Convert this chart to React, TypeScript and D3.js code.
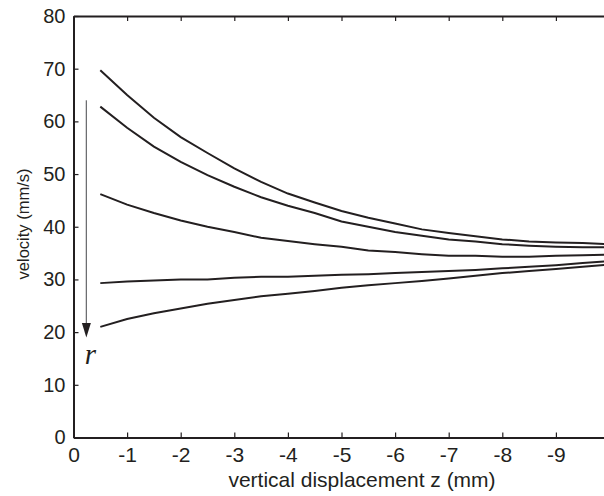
import React, { useRef, useEffect } from 'react';
import * as d3 from 'd3';

// vertical displacement z (mm), sampled every 0.5 mm
const zValues = [-0.5, -1, -1.5, -2, -2.5, -3, -3.5, -4, -4.5, -5, -5.5, -6, -6.5, -7, -7.5, -8, -8.5, -9, -9.5, -10];

// velocity (mm/s) for each radial position, outermost first
const curve1 = [69.7, 65.0, 60.7, 57.0, 54.0, 51.1, 48.5, 46.3, 44.6, 43.0, 41.7, 40.6, 39.5, 38.8, 38.2, 37.6, 37.2, 37.0, 36.9, 36.7];
const curve2 = [62.8, 58.8, 55.2, 52.3, 49.8, 47.6, 45.6, 44.0, 42.6, 41.0, 40.0, 39.0, 38.3, 37.6, 37.2, 36.7, 36.4, 36.2, 36.1, 36.1];
const curve3 = [46.2, 44.2, 42.6, 41.2, 40.0, 39.0, 37.9, 37.3, 36.7, 36.2, 35.5, 35.2, 34.8, 34.5, 34.5, 34.3, 34.3, 34.5, 34.6, 34.7];
const curve4 = [29.3, 29.6, 29.8, 30.0, 30.0, 30.3, 30.5, 30.5, 30.7, 30.9, 31.0, 31.2, 31.4, 31.6, 31.8, 32.1, 32.4, 32.7, 33.1, 33.5];
const curve5 = [21.0, 22.5, 23.6, 24.5, 25.4, 26.1, 26.8, 27.3, 27.8, 28.4, 28.9, 29.3, 29.7, 30.2, 30.7, 31.2, 31.6, 32.0, 32.4, 32.8];
const curves = [curve1, curve2, curve3, curve4, curve5];

const xTicks = [0, -1, -2, -3, -4, -5, -6, -7, -8, -9];
const yTicks = [0, 10, 20, 30, 40, 50, 60, 70, 80];

// the "r" arrow, in data units
const arrowZ = -0.24;
const arrowFrom = 64;
const arrowTo = 19;

export default function App() {
    const ref = useRef<SVGSVGElement>(null);

    useEffect(() => {
        const svg = d3.select(ref.current);
        svg.selectAll('*').remove();

        const width = 604;
        const height = 496;
        const marginLeft = 73.5;
        const marginTop = 16;
        const bottom = 437.5;

        const x = d3.scaleLinear().domain([0, -10]).range([marginLeft, marginLeft + 536]);
        const y = d3.scaleLinear().domain([0, 80]).range([bottom, marginTop]);

        svg.attr('width', width).attr('height', height);

        const font = '"Liberation Sans", Arial, Helvetica, sans-serif';
        const ink = '#231f20';

        // bottom axis (plain hyphen for the minus sign, as in the original)
        const gx = svg.append('g')
            .attr('transform', `translate(0, ${bottom})`)
            .call(d3.axisBottom(x).tickValues(xTicks).tickFormat(d => String(d)).tickSizeInner(-5).tickSizeOuter(0).tickPadding(10));
        gx.selectAll('text').attr('font-size', 21).attr('font-family', font).attr('fill', ink);

        // top axis, ticks only
        svg.append('g')
            .attr('transform', `translate(0, ${marginTop})`)
            .call(d3.axisTop(x).tickValues(xTicks).tickFormat(() => '').tickSizeInner(-5).tickSizeOuter(0));

        // left axis
        const gy = svg.append('g')
            .attr('transform', `translate(${marginLeft}, 0)`)
            .call(d3.axisLeft(y).tickValues(yTicks).tickSizeInner(-5).tickSizeOuter(0).tickPadding(8));
        gy.selectAll('text').attr('font-size', 20).attr('font-family', font).attr('fill', ink);

        svg.selectAll('.domain').attr('stroke', ink).attr('stroke-width', 2);
        svg.selectAll('.tick line').attr('stroke', ink).attr('stroke-width', 1.2);

        // curves
        const line = d3.line<number>()
            .x((_, i) => x(zValues[i]))
            .y(d => y(d));

        svg.append('g')
            .selectAll('path')
            .data(curves)
            .join('path')
            .attr('d', d => line(d))
            .attr('fill', 'none')
            .attr('stroke', ink)
            .attr('stroke-width', 2);

        // r arrow
        const ax = x(arrowZ);
        svg.append('line')
            .attr('x1', ax).attr('x2', ax)
            .attr('y1', y(arrowFrom)).attr('y2', y(arrowTo) - 12)
            .attr('stroke', '#6d6e71')
            .attr('stroke-width', 1.3);
        svg.append('path')
            .attr('d', `M${ax - 4.5},${y(arrowTo) - 14.5} L${ax + 4.5},${y(arrowTo) - 14.5} L${ax},${y(arrowTo)} Z`)
            .attr('fill', ink);
        svg.append('text')
            .attr('x', ax + 4)
            .attr('y', y(arrowTo) + 27)
            .attr('text-anchor', 'middle')
            .attr('font-family', '"Liberation Serif", "Times New Roman", serif')
            .attr('font-style', 'italic')
            .attr('font-size', 29)
            .attr('fill', ink)
            .text('r');

        // axis titles
        svg.append('text')
            .attr('x', 362)
            .attr('y', 487)
            .attr('text-anchor', 'middle')
            .attr('font-family', font)
            .attr('font-size', 21)
            .attr('fill', ink)
            .text('vertical displacement z (mm)');

        svg.append('text')
            .attr('transform', 'translate(29, 224) rotate(-90)')
            .attr('text-anchor', 'middle')
            .attr('font-family', font)
            .attr('font-size', 16.5)
            .attr('fill', ink)
            .text('velocity (mm/s)');
    }, []);

    return <svg ref={ref} style={{ position: 'absolute', left: 0, top: 0 }} />;
}
